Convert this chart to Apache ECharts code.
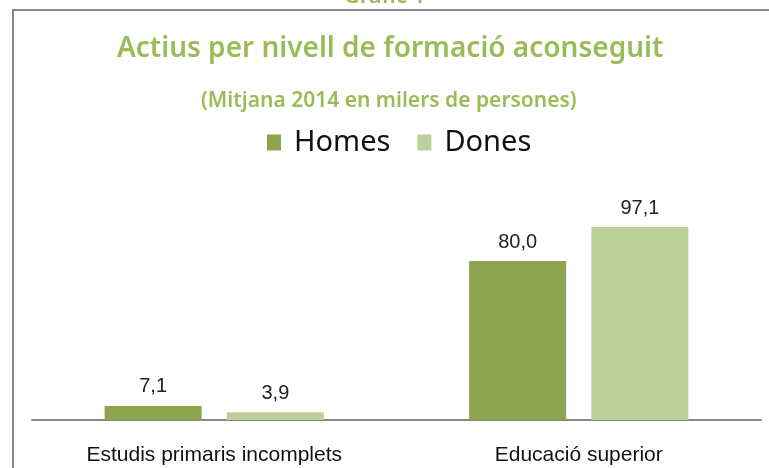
<!DOCTYPE html>
<html>
<head>
<meta charset="utf-8">
<script src="https://cdn.jsdelivr.net/npm/echarts@6/dist/echarts.min.js"></script>
<style>
  html, body { margin: 0; padding: 0; background: #fff; }
  #chart { width: 769px; height: 468px; }
</style>
</head>
<body>
<div id="chart"></div>
<script>
const categories = ["Estudis primaris incomplets", "Educació superior"];
const homes = [7.1, 80.0];
const dones = [3.9, 97.1];
const seriesNames = ["Homes", "Dones"];

const green = "#9BBB59";

// decimal comma, as in the original
function fmt(v) {
  return v.toFixed(1).replace(".", ",");
}

const chart = echarts.init(document.getElementById("chart"));

const labelStyle = {
  show: true,
  position: "top",
  distance: 9,
  fontFamily: "Liberation Sans",
  fontSize: 20,
  color: "#222",
  formatter: (p) => fmt(p.value),
};

chart.setOption({
  animation: false,
  title: [
    {
      text: "Gràfic 1",
      left: "center",
      top: -19,
      textStyle: { fontFamily: "Noto Sans", fontWeight: 600, fontSize: 22, color: green },
    },
    {
      text: "Actius per nivell de formació aconseguit",
      left: 112,
      top: 30,
      textStyle: { fontFamily: "Noto Sans", fontWeight: 600, fontSize: 28, color: green },
    },
    {
      text: "(Mitjana 2014 en milers de persones)",
      left: 196,
      top: 86,
      textStyle: { fontFamily: "Noto Sans", fontWeight: 600, fontSize: 21, color: green },
    },
  ],
  legend: {
    top: 123,
    left: 262,
    icon: "rect",
    itemWidth: 14,
    itemHeight: 16,
    itemGap: 27,
    textStyle: {
      fontFamily: "Noto Sans",
      fontSize: 29,
      color: "#111",
      padding: [0, 0, 0, 8],
    },
    data: seriesNames,
  },
  graphic: [
    {
      type: "polyline",
      shape: { points: [[13, 468], [13, 10], [769, 10]] },
      style: { stroke: "#888", lineWidth: 2, fill: null },
    },
  ],
  grid: { left: 32, right: 8, top: 181.5, bottom: 48 },
  xAxis: {
    type: "category",
    data: categories,
    axisLine: { lineStyle: { color: "#888", width: 2 } },
    axisTick: { show: false },
    axisLabel: {
      margin: 25,
      fontFamily: "Liberation Sans",
      fontSize: 21,
      color: "#111",
    },
  },
  yAxis: {
    type: "value",
    min: 0,
    max: 120,
    show: false,
    splitLine: { show: false },
  },
  series: [
    {
      name: seriesNames[0],
      type: "bar",
      data: homes,
      barWidth: 97,
      barGap: "26%",
      itemStyle: { color: "#8BA64F" },
      label: labelStyle,
    },
    {
      name: seriesNames[1],
      type: "bar",
      data: dones,
      barWidth: 97,
      itemStyle: { color: "#BCD09A" },
      label: labelStyle,
    },
  ],
});
</script>
</body>
</html>
